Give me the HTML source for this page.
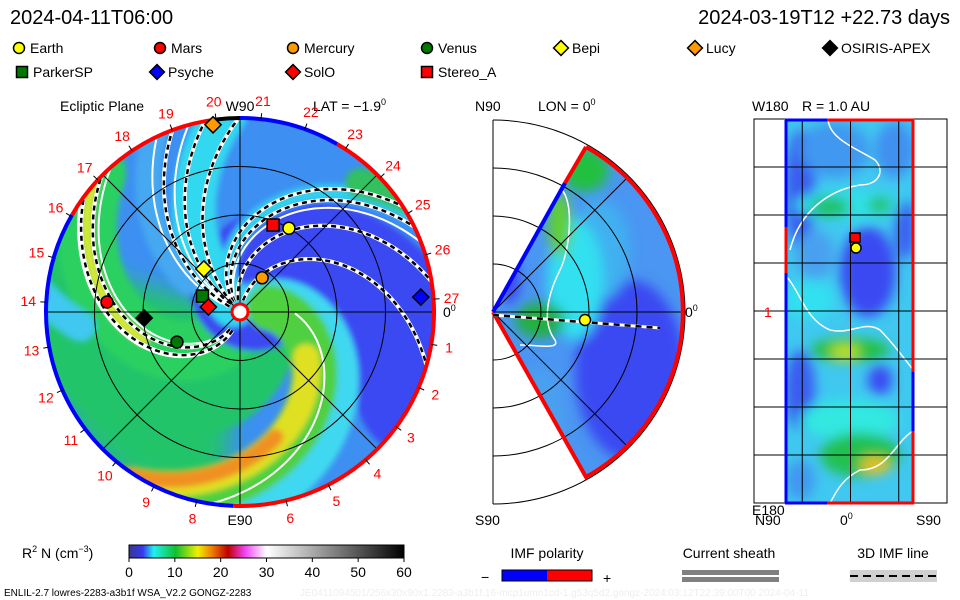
<!DOCTYPE html>
<html><head><meta charset="utf-8"><style>
html,body{margin:0;padding:0;background:#fff;}
svg{display:block;font-family:"Liberation Sans",sans-serif;}
</style></head><body>
<svg id="s" width="960" height="600" viewBox="0 0 960 600">
<defs>
<clipPath id="diskClip"><circle cx="240" cy="312" r="193"/></clipPath>
<clipPath id="wedgeClip"><path d="M493,312 L586,147 A189,189 0 0 1 586,477 Z"/></clipPath>
<clipPath id="rectClip"><rect x="785" y="120" width="129" height="383"/></clipPath>
<filter id="bl" x="-50%" y="-50%" width="200%" height="200%"><feGaussianBlur stdDeviation="6"/></filter>
<filter id="bl2" x="-50%" y="-50%" width="200%" height="200%"><feGaussianBlur stdDeviation="3"/></filter>
<filter id="bl3" x="-50%" y="-50%" width="200%" height="200%"><feGaussianBlur stdDeviation="12"/></filter>
<linearGradient id="cbar" x1="0" x2="1" y1="0" y2="0">
<stop offset="0" stop-color="#383890"/><stop offset="0.05" stop-color="#3838f0"/>
<stop offset="0.09" stop-color="#20f0f0"/><stop offset="0.17" stop-color="#10c030"/>
<stop offset="0.25" stop-color="#f0f000"/><stop offset="0.3" stop-color="#f08000"/>
<stop offset="0.36" stop-color="#c00000"/><stop offset="0.42" stop-color="#f040f0"/>
<stop offset="0.5" stop-color="#ffffff"/><stop offset="1" stop-color="#000000"/>
</linearGradient>
</defs>

<text x="10" y="24" font-size="20">2024-04-11T06:00</text>
<text x="950" y="24" font-size="20" text-anchor="end">2024-03-19T12 +22.73 days</text>

<g id="legend"></g>

<text x="60" y="111" font-size="14">Ecliptic Plane</text>
<text x="313" y="111" font-size="14">LAT = −1.9<tspan font-size="9" dy="-6">0</tspan></text>
<text x="475" y="111" font-size="14">N90</text>
<text x="538" y="111" font-size="14">LON = 0<tspan font-size="9" dy="-6">0</tspan></text>
<text x="802" y="111" font-size="14">R = 1.0 AU</text>

<g id="disk">
<circle cx="240" cy="312" r="194" fill="#3d8ff2"/>
<g id="bands" clip-path="url(#diskClip)"></g>
<g id="diskGrid"></g>
<g id="rim"></g>
</g>
<g id="hours"></g>
<text x="240" y="111" font-size="14" text-anchor="middle">W90</text>
<text x="443" y="317" font-size="14">0<tspan font-size="9" dy="-6">0</tspan></text>
<text x="240" y="525" font-size="14" text-anchor="middle">E90</text>

<g id="mid">
<g clip-path="url(#wedgeClip)">
<path d="M493,312 L586,147 A189,189 0 0 1 586,477 Z" fill="#4a96f2"/>
<g filter="url(#bl)">
<ellipse cx="630" cy="370" rx="55" ry="90" fill="#3a48f2"/>
<ellipse cx="600" cy="250" rx="30" ry="50" fill="#3fb0f0"/>
<ellipse cx="575" cy="280" rx="28" ry="60" fill="#30e0f0"/>
<ellipse cx="585" cy="170" rx="24" ry="22" fill="#20c040"/>
<ellipse cx="560" cy="225" rx="12" ry="32" fill="#60d030"/>
<ellipse cx="540" cy="320" rx="25" ry="18" fill="#20b040"/>
<ellipse cx="510" cy="280" rx="10" ry="25" fill="#3a48f2"/>
<ellipse cx="540" cy="420" rx="25" ry="50" fill="#4aa0f0"/>
</g>
<path d="M560,188 C575,200 570,250 560,270 C550,290 540,320 555,340 C560,350 540,345 520,345" fill="none" stroke="#fff" stroke-width="1.5"/>
</g>
<g id="midGrid"></g>
<path d="M586,147 A189,189 0 0 1 586,477 L493,312" fill="none" stroke="#f00" stroke-width="4"/>
<path d="M493,312 L565,183" fill="none" stroke="#00f" stroke-width="4"/>
<path d="M565,183 L586,147" fill="none" stroke="#f00" stroke-width="4"/>
<path d="M493,315 L660,328" fill="none" stroke="#fff" stroke-width="3"/>
<path d="M493,315 L660,328" fill="none" stroke="#000" stroke-width="2.5" stroke-dasharray="6,5"/>
<circle cx="585" cy="320" r="5.5" fill="#ff0" stroke="#000" stroke-width="1.5"/>
</g>
<text x="685" y="317" font-size="14">0<tspan font-size="9" dy="-6">0</tspan></text>
<text x="475" y="525" font-size="14">S90</text>

<g id="right">
<g clip-path="url(#rectClip)">
<rect x="785" y="120" width="129" height="383" fill="#40c8f0"/>
<g filter="url(#bl)">
<ellipse cx="800" cy="190" rx="15" ry="60" fill="#3a5cf0"/>
<ellipse cx="835" cy="150" rx="35" ry="28" fill="#4098f0"/>
<ellipse cx="895" cy="150" rx="20" ry="28" fill="#4090f0"/>
<ellipse cx="850" cy="205" rx="55" ry="15" fill="#30e0e8"/>
<ellipse cx="830" cy="207" rx="20" ry="10" fill="#20c060"/>
<ellipse cx="880" cy="205" rx="12" ry="8" fill="#20c060"/>
<ellipse cx="868" cy="272" rx="28" ry="45" fill="#3a48f2"/>
<ellipse cx="815" cy="255" rx="20" ry="25" fill="#4aa0f0"/>
<ellipse cx="810" cy="300" rx="25" ry="20" fill="#30e0f0"/>
<ellipse cx="800" cy="390" rx="15" ry="40" fill="#3a5cf0"/>
<ellipse cx="850" cy="350" rx="40" ry="12" fill="#20c040"/>
<ellipse cx="845" cy="352" rx="15" ry="8" fill="#c0e020"/>
<ellipse cx="880" cy="380" rx="12" ry="15" fill="#3a48f2"/>
<ellipse cx="850" cy="420" rx="50" ry="20" fill="#30e8e0"/>
<ellipse cx="860" cy="455" rx="40" ry="22" fill="#20c050"/>
<ellipse cx="875" cy="465" rx="15" ry="8" fill="#f0c010"/>
<ellipse cx="905" cy="230" rx="10" ry="30" fill="#3a5cf0"/>
<ellipse cx="800" cy="480" rx="15" ry="20" fill="#4098f0"/>
</g>
<path d="M828,120 C830,140 860,150 875,160 C885,170 880,185 860,185 C830,190 800,210 790,250" fill="none" stroke="#fff" stroke-width="1.5"/>
<path d="M785,275 C800,290 805,320 830,330 C850,335 865,320 880,330 C895,345 905,360 915,372" fill="none" stroke="#fff" stroke-width="1.5"/>
<path d="M915,430 C895,440 890,470 860,470 C840,480 835,495 830,503" fill="none" stroke="#fff" stroke-width="1.5"/>
</g>
<g id="rightGrid"></g>
<path d="M786,120 V227 M786,273 V503 M785,120 H827 M785,503 H827 M913,372 V431" stroke="#00f" stroke-width="3" fill="none"/>
<path d="M786,227 V273 M827,120 H914 M827,503 H914 M913,120 V372 M913,431 V503" stroke="#f00" stroke-width="3" fill="none"/>
<rect x="850" y="233" width="10" height="9" fill="#f00" stroke="#000" stroke-width="1.5"/>
<circle cx="856" cy="248" r="5" fill="#ff0" stroke="#000" stroke-width="1.5"/>
</g>
<text x="752" y="111" font-size="14">W180</text>
<text x="764" y="317" font-size="14" fill="#f00">1</text>
<text x="752" y="515" font-size="14">E180</text>
<text x="755" y="525" font-size="14">N90</text>
<text x="840" y="525" font-size="14">0<tspan font-size="9" dy="-6">0</tspan></text>
<text x="916" y="525" font-size="14">S90</text>

<g id="colorbar">
<text x="22" y="558" font-size="14">R<tspan font-size="9" dy="-6">2</tspan><tspan dy="6"> N (cm</tspan><tspan font-size="9" dy="-6">−3</tspan><tspan dy="6">)</tspan></text>
<rect x="129" y="545" width="275" height="13" fill="url(#cbar)" stroke="#000" stroke-width="1"/>
</g>

<text x="547" y="558" font-size="14" text-anchor="middle">IMF polarity</text>
<text x="481" y="582" font-size="14">−</text>
<rect x="502" y="570" width="45" height="11" fill="#00f"/>
<rect x="547" y="570" width="45" height="11" fill="#f00"/>
<rect x="502" y="570" width="90" height="11" fill="none" stroke="#000" stroke-width="1"/>
<text x="603" y="583" font-size="14">+</text>
<text x="729" y="558" font-size="14" text-anchor="middle">Current sheath</text>
<rect x="682" y="570" width="97" height="5" fill="#808080"/>
<rect x="682" y="577" width="97" height="5" fill="#808080"/>
<text x="893" y="558" font-size="14" text-anchor="middle">3D IMF line</text>
<rect x="850" y="570" width="87" height="12" fill="#d0d0d0"/>
<line x1="850" y1="576" x2="937" y2="576" stroke="#000" stroke-width="2" stroke-dasharray="8,5"/>

<text x="4" y="596" font-size="10">ENLIL-2.7 lowres-2283-a3b1f WSA_V2.2 GONGZ-2283</text>
<text x="300" y="596" font-size="10" fill="#eeeeee">JE0411094501/256x30x90x1.2283-a3b1f.16-mcp1umn1cd-1.g53q5d2.gongz-2024:03:12T22:39:00T00   2024-04-11</text>
</svg>
<script>
const NS='http://www.w3.org/2000/svg';
const cx=240, cy=312, R=194, pxPerAU=97;
const colorTicks=[0,10,20,30,40,50,60];
const gridRadiiAU=[0.5,1.0,1.5];
const hourLabels=[1,2,3,4,5,6,7,8,9,10,11,12,13,14,15,16,17,18,19,20,21,22,23,24,25,26,27];
const planetNames=['Earth','Mars','Mercury','Venus','Bepi','Lucy','OSIRIS-APEX','ParkerSP','Psyche','SolO','Stereo_A'];
const planetRadiusAU=[1.0,1.375,0.42,0.72,0.58,1.95,0.99,0.42,1.87,0.33,0.96];
const planetAngleDeg=[59.7,175.7,57.1,205.5,130,98.2,183.6,157,4.7,171,69.2];
const planetShape=['circle','circle','circle','circle','diamond','diamond','diamond','square','diamond','diamond','square'];
const planetColor=['#ffff00','#ff0000','#ff9900','#007700','#ffff00','#ff9900','#000000','#007700','#0000ff','#ff0000','#ff0000'];
const legendX=[14,155,288,422,556,690,825,17,152,288,422];
const legendRow=[0,0,0,0,0,0,0,1,1,1,1];
const mapLatTicks=[0,1,2,3,4];
const mapLonTicks=[0,1,2,3,4,5,6,7,8];

function mk(tag,attrs,parent){const e=document.createElementNS(NS,tag);for(const k in attrs)e.setAttribute(k,attrs[k]);parent.appendChild(e);return e;}
function pol(r,deg){const a=deg*Math.PI/180;return [cx+r*Math.cos(a),cy-r*Math.sin(a)];}
function spiral(phi0,k,r0,r1){let d='';for(let r=r0;r<=r1;r+=3){const p=pol(r,phi0+k*r);d+=(d?'L':'M')+p[0].toFixed(1)+','+p[1].toFixed(1);}return d;}
function sector(a0,a1,r){const p=pol(r,a0),q=pol(r,a1);return `M${cx},${cy}L${p[0]},${p[1]}A${r},${r} 0 0 0 ${q[0]},${q[1]}Z`;}
function marker(parent,shape,x,y,s,color){
  let e;
  if(shape==='circle') e=mk('circle',{cx:x,cy:y,r:s,fill:color,stroke:'#000','stroke-width':1.5},parent);
  else if(shape==='square') e=mk('rect',{x:x-s,y:y-s,width:2*s,height:2*s,fill:color,stroke:'#000','stroke-width':1.5},parent);
  else e=mk('path',{d:`M${x},${y-s*1.35}L${x+s*1.35},${y}L${x},${y+s*1.35}L${x-s*1.35},${y}Z`,fill:color,stroke:'#000','stroke-width':1.5},parent);
  return e;
}

const bands=document.getElementById('bands');
const gs=mk('path',{d:sector(165,265,200),fill:'#22c46a',filter:'url(#bl3)'},bands);


const bandList=[
 [300,-0.7,0,200,100,'#22c46a'],
 [256,-0.6,20,200,60,'#2ad060'],
 [225,-0.25,160,200,30,'#40c8f0'],
 [75,-0.5,30,200,130,'#3a48f2'],
 [140,-0.23,10,200,44,'#30d8f0'],
 [165,-0.25,60,200,26,'#44a8f0'],
 [128,-0.5,20,200,16,'#30d0f0'],
 [135,-0.5,176,200,30,'#30c060'],
 [52,-0.7,20,200,34,'#40d8f0'],
 [30,-0.72,30,200,46,'#50d040'],
 [25,-0.74,80,200,26,'#e0e020'],
 [22,-0.74,130,200,16,'#f09020'],
 [256,-0.6,100,200,10,'#d8e830']
];
const bg=mk('g',{filter:'url(#bl2)'},bands);


bandList.forEach(b=>{mk('path',{d:spiral(b[0],b[1],b[2],b[3]),fill:'none',stroke:b[5],'stroke-width':b[4],'stroke-linecap':'round'},bg);});
[[37,-0.7,55,195],[262,-0.6,40,200],[248,-0.6,40,200],[150,-0.23,20,200],[160,-0.23,20,200],[118,-0.5,20,200]].forEach(w=>{
  const e=mk('path',{d:spiral(w[0],w[1],w[2],w[3]),fill:'none',stroke:'#fff','stroke-width':2},bands);
  
  
});
[[81,-0.5,12,200],[106,-0.5,12,200],[123,-0.5,12,200],[130,-0.5,12,200],[135,-0.23,12,200],[145,-0.23,12,200],[155,-0.23,12,200],[252,-0.6,20,200],[260,-0.6,20,200]].forEach(w=>{
  const d=spiral(w[0],w[1],w[2],w[3]);
  mk('path',{d:d,fill:'none',stroke:'#fff','stroke-width':4},bands);
  const e=mk('path',{d:d,fill:'none',stroke:'#000','stroke-width':2.5,'stroke-dasharray':'5,4'},bands);
  
  
});

const dg=document.getElementById('diskGrid');
gridRadiiAU.forEach(a=>{
  const c=mk('circle',{cx:cx,cy:cy,r:a*pxPerAU,fill:'none',stroke:'#000','stroke-width':1},dg);
  
  
});
[0,45,90,135].forEach(a=>{const p=pol(R,a),q=pol(R,a+180);
  const l=mk('line',{x1:p[0],y1:p[1],x2:q[0],y2:q[1],stroke:'#000','stroke-width':1},dg);
  
  
});
const rim=document.getElementById('rim');
[[97,150,'#f00'],[150,268,'#00f'],[268,420,'#f00'],[60,90,'#00f'],[90,97,'#000']].forEach(s=>{
  const p=pol(R,s[0]),q=pol(R,s[1]);const large=(s[1]-s[0])>180?1:0;
  const e=mk('path',{d:`M${p[0]},${p[1]} A${R},${R} 0 ${large} 0 ${q[0]},${q[1]}`,fill:'none',stroke:s[2],'stroke-width':4},rim);
  
  
});
const sun=mk('circle',{cx:cx,cy:cy,r:8,fill:'#fff',stroke:'#f00','stroke-width':3},rim);



const hg=document.getElementById('hours');
hourLabels.forEach(n=>{
  if(n===7)return;
  const a=3.8+(27-n)*13.33;const p=pol(212,a);
  const t=mk('text',{x:p[0],y:p[1]+5,'font-size':14,fill:'#f00','text-anchor':'middle'},hg);
  t.textContent=n;
  
  
  const p1=pol(194,a),p2=pol(200,a);
  mk('line',{x1:p1[0],y1:p1[1],x2:p2[0],y2:p2[1],stroke:'#000','stroke-width':1},hg);
});

planetNames.forEach((n,i)=>{
  const p=pol(planetRadiusAU[i]*pxPerAU,planetAngleDeg[i]);
  const e=marker(document.getElementById('disk'),planetShape[i],p[0],p[1],6,planetColor[i]);
  
  
});

const lg=document.getElementById('legend');
planetNames.forEach((n,i)=>{
  const y=48+legendRow[i]*24;
  const e=marker(lg,planetShape[i],legendX[i]+5,y,5.5,planetColor[i]);
  
  
  const t=mk('text',{x:legendX[i]+16,y:y+5,'font-size':14},lg);
  t.textContent=n;
  
  
});

const mg=document.getElementById('midGrid');
gridRadiiAU.concat([2]).forEach(a=>{const r=a*96;
  const e=mk('path',{d:`M493,${312-r} A${r},${r} 0 0 1 493,${312+r}`,fill:'none',stroke:'#000','stroke-width':1},mg);
  
  
});
mk('line',{x1:493,y1:120,x2:493,y2:504,stroke:'#000','stroke-width':1},mg);
[45,0,-45].forEach(a=>{const r=a*Math.PI/180;
  mk('line',{x1:493,y1:312,x2:493+189*Math.cos(r),y2:312-189*Math.sin(r),stroke:'#000','stroke-width':1},mg);});

const rg=document.getElementById('rightGrid');
mk('rect',{x:754,y:119,width:193,height:384,fill:'none',stroke:'#000','stroke-width':1},rg);
mapLonTicks.forEach(i=>{const y=119+i*48;
  const l=mk('line',{x1:754,y1:y,x2:947,y2:y,stroke:'#000','stroke-width':1},rg);
  
  });
mapLatTicks.forEach(i=>{const x=754+i*48.25;
  const l=mk('line',{x1:x,y1:119,x2:x,y2:503,stroke:'#000','stroke-width':1},rg);
  
  });

const cb=document.getElementById('colorbar');
colorTicks.forEach(v=>{const x=129+v/60*275;
  mk('line',{x1:x,y1:558,x2:x,y2:562,stroke:'#000'},cb);
  const t=mk('text',{x:x,y:577,'font-size':14,'text-anchor':'middle'},cb);
  t.textContent=v;
  
  
});
</script>
</body></html>
